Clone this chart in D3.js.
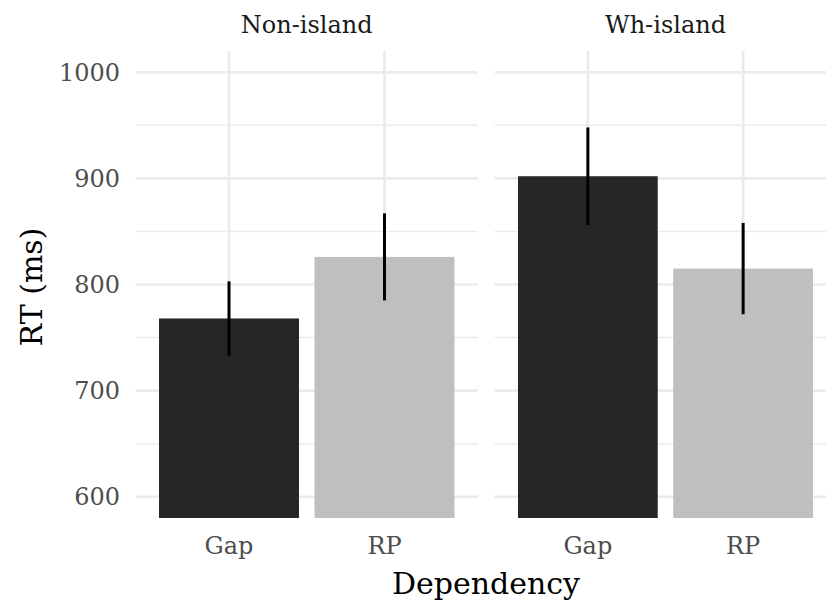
<!DOCTYPE html>
<html>
<head>
<meta charset="utf-8">
<script src="https://cdnjs.cloudflare.com/ajax/libs/d3/7.8.5/d3.min.js"></script>
<style>
  body { margin: 0; background: #fff; }
  text { font-family: "DejaVu Serif", serif; }
</style>
</head>
<body>
<div id="chart"></div>
<script>
var svgWidth = 826;
var svgHeight = 600;

// data
var panels = ["Non-island", "Wh-island"];
var dependencies = ["Gap", "RP"];
var rtMean = [[768, 826], [902, 815]];
var rtErr = [[35, 41], [46, 43]];
var barColors = ["#262626", "#bfbfbf"];
var yTicks = [600, 700, 800, 900, 1000];
var yMinor = [650, 750, 850, 950];

// panel layout (right panel runs past the window edge, as in the original)
var panelTop = 51, panelBottom = 518;
var panelX = [[135.7, 477.8], [494.7, 836.3]];

var svg = d3.select("#chart")
  .append("svg")
  .attr("width", svgWidth)
  .attr("height", svgHeight);

var yScale = d3.scaleLinear()
  .domain([580, 1020])
  .range([panelBottom, panelTop]);

panels.forEach(function (panel, p) {
  var x0 = panelX[p][0], x1 = panelX[p][1];

  var xScale = d3.scalePoint()
    .domain(dependencies)
    .range([x0, x1])
    .padding(0.6);
  var barW = xScale.step() * 0.9;

  var g = svg.append("g");

  // minor grid
  g.selectAll(".minor")
    .data(yMinor)
    .enter()
    .append("line")
    .attr("x1", x0).attr("x2", x1)
    .attr("y1", d => yScale(d)).attr("y2", d => yScale(d))
    .attr("stroke", "#ebebeb")
    .attr("stroke-width", 1.4);

  // major grid
  g.selectAll(".major")
    .data(yTicks)
    .enter()
    .append("line")
    .attr("x1", x0).attr("x2", x1)
    .attr("y1", d => yScale(d)).attr("y2", d => yScale(d))
    .attr("stroke", "#ebebeb")
    .attr("stroke-width", 2.7);

  g.selectAll(".vgrid")
    .data(dependencies)
    .enter()
    .append("line")
    .attr("x1", d => xScale(d)).attr("x2", d => xScale(d))
    .attr("y1", panelTop).attr("y2", panelBottom)
    .attr("stroke", "#ebebeb")
    .attr("stroke-width", 2.7);

  // bars
  g.selectAll("rect")
    .data(dependencies)
    .enter()
    .append("rect")
    .attr("x", d => xScale(d) - barW / 2)
    .attr("width", barW)
    .attr("y", (d, i) => yScale(rtMean[p][i]))
    .attr("height", (d, i) => panelBottom - yScale(rtMean[p][i]))
    .attr("fill", (d, i) => barColors[i]);

  // error bars
  g.selectAll(".err")
    .data(dependencies)
    .enter()
    .append("line")
    .attr("x1", d => xScale(d)).attr("x2", d => xScale(d))
    .attr("y1", (d, i) => yScale(rtMean[p][i] + rtErr[p][i]))
    .attr("y2", (d, i) => yScale(rtMean[p][i] - rtErr[p][i]))
    .attr("stroke", "#000")
    .attr("stroke-width", 3);

  // x tick labels
  g.selectAll(".xtick")
    .data(dependencies)
    .enter()
    .append("text")
    .attr("x", d => xScale(d))
    .attr("y", 554)
    .attr("text-anchor", "middle")
    .style("font-size", "24px")
    .style("fill", "#4d4d4d")
    .text(d => d);

  // strip label
  g.append("text")
    .attr("x", (x0 + x1) / 2)
    .attr("y", 33)
    .attr("text-anchor", "middle")
    .style("font-size", "24px")
    .style("fill", "#1a1a1a")
    .text(panel);
});

// y tick labels
svg.selectAll(".ytick")
  .data(yTicks)
  .enter()
  .append("text")
  .attr("x", 120)
  .attr("y", d => yScale(d))
  .attr("dy", "0.36em")
  .attr("text-anchor", "end")
  .style("font-size", "24px")
  .style("fill", "#4d4d4d")
  .text(d => d);

// axis titles
svg.append("text")
  .attr("transform", "translate(42, 287) rotate(-90)")
  .attr("text-anchor", "middle")
  .style("font-size", "30px")
  .style("fill", "#000")
  .text("RT (ms)");

svg.append("text")
  .attr("x", (panelX[0][0] + panelX[1][1]) / 2)
  .attr("y", 594)
  .attr("text-anchor", "middle")
  .style("font-size", "30px")
  .style("fill", "#000")
  .text("Dependency");
</script>
</body>
</html>
